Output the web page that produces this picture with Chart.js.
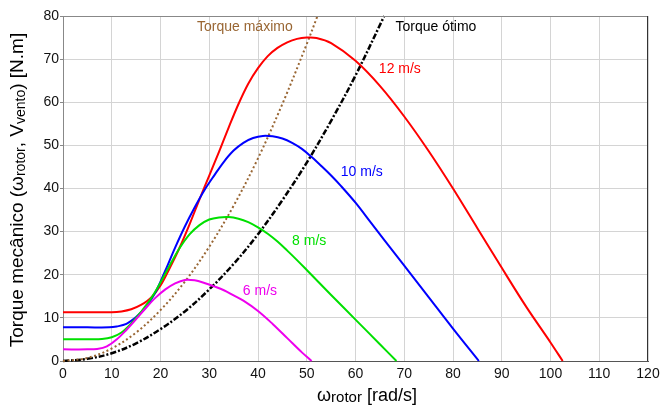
<!DOCTYPE html>
<html>
<head>
<meta charset="utf-8">
<script src="https://cdn.jsdelivr.net/npm/chart.js@4.4.1/dist/chart.umd.min.js"></script>
<style>
  html, body { margin: 0; padding: 0; background: #fff; }
  #wrap { width: 660px; height: 407px; }
</style>
</head>
<body>
<div id="wrap"><canvas id="chart_wrap" width="660" height="407"></canvas></div>
<script>
// valores: [omega (rad/s), torque (N.m)]
const v12 = [[0,11.3],[5,11.3],[10,11.3],[12,11.5],[14,12],[16,13],[18,14.6],[20,17.5],[22,21.8],[24,26.5],[26,31.8],[28,37.5],[30,43],[32,48.5],[34,54.2],[36,59.6],[38,64.3],[40,67.9],[42,70.7],[44,72.6],[46,73.9],[48,74.7],[50,75],[52,74.9],[55,73.7],[60,69.6],[65,63.8],[70,56.7],[75,48.7],[80,40],[85,30.8],[90,21.6],[95,12.6],[100,4.3],[102.5,0]];
const v10 = [[0,7.8],[5,7.8],[9.5,7.8],[11,8],[13,8.6],[15,10.2],[17,12.5],[19,16],[21,21],[23,26.3],[25,31.2],[27,35.6],[29,39.6],[31,43],[33,46.2],[35,48.8],[37,50.6],[39,51.7],[41,52.2],[43,52.1],[45,51.6],[47,50.6],[49,49.2],[51,47.3],[53,45.2],[55,43],[57,40.6],[60,36.7],[63,32.3],[66,27.9],[70,22.1],[75,14.8],[80,7.5],[85.3,0]];
const v8 = [[0,5.05],[5,5.05],[8,5.1],[10,5.5],[12,6.6],[14,8.7],[16,11.4],[18,14.4],[20,18.2],[22,22.4],[24,26.3],[26,29.4],[28,31.5],[30,32.8],[32,33.3],[34,33.4],[36,33],[38,32.2],[40,31],[42,29.5],[44,27.7],[46,25.6],[48,23.4],[50,21.1],[55,15.3],[60,9.6],[65,3.9],[68.4,0]];
const v6 = [[0,2.7],[5,2.7],[7,2.8],[9,3.4],[11,5],[13,7.2],[15,9.7],[17,12.3],[19,14.7],[21,16.6],[23,18],[25,18.8],[27,18.7],[29,18.1],[31,17.3],[33,16.4],[35,15.2],[37,14],[40,11.6],[43,8.6],[46,5.3],[49,2],[51,0]];
const torqueMax = [[0,0],[5,0.7],[10,2.9],[15,6.6],[20,11.8],[25,18.4],[30,26.5],[35,36],[40,47],[45,59.6],[50,73.5],[52.2,80]];
const torqueOtimo = [[0,0],[5,0.5],[10,1.8],[15,4.1],[20,7.4],[25,11.5],[30,16.6],[35,22.5],[40,29.4],[45,37.3],[50,46],[55,55.7],[60,66.2],[65.9,80]];

const xTicks = [0,10,20,30,40,50,60,70,80,90,100,110,120];
const yTicks = [0,10,20,30,40,50,60,70,80];

// rótulos dentro do gráfico
const curveLabels = [
  { text: '12 m/s', x: 69.1, y: 67.6, color: '#ff0000' },
  { text: '10 m/s', x: 61.3, y: 43.8, color: '#0000ff' },
  { text: '8 m/s', x: 50.5, y: 27.8, color: '#00e000' },
  { text: '6 m/s', x: 40.4, y: 16.2, color: '#ee00ee' },
  { text: 'Torque máximo', x: 37.3, y: 77.4, color: '#996633' },
  { text: 'Torque ótimo', x: 76.5, y: 77.4, color: '#000000' },
];

const toPts = arr => arr.map(p => ({ x: p[0], y: p[1] }));

function drawMixed(ctx, parts, x, y) {
  // parts: [texto, tamanho, deslocamento]
  let cx = x;
  parts.forEach(p => {
    ctx.font = p[1] + 'px "Liberation Sans", Arial, sans-serif';
    ctx.fillText(p[0], cx, y + (p[2] || 0));
    cx += ctx.measureText(p[0]).width;
  });
  return cx - x;
}

function mixedWidth(ctx, parts) {
  let w = 0;
  parts.forEach(p => {
    ctx.font = p[1] + 'px "Liberation Sans", Arial, sans-serif';
    w += ctx.measureText(p[0]).width;
  });
  return w;
}

const extras = {
  id: 'extras',
  afterDraw(chart) {
    const ctx = chart.ctx;
    const a = chart.chartArea;
    const sx = chart.scales.x, sy = chart.scales.y;
    ctx.save();
    // moldura superior e direita
    ctx.lineWidth = 1;
    ctx.strokeStyle = '#888888';
    ctx.beginPath();
    ctx.moveTo(a.left, a.top + 0.5);
    ctx.lineTo(a.right, a.top + 0.5);
    ctx.stroke();
    ctx.strokeStyle = '#333333';
    ctx.beginPath();
    ctx.moveTo(a.right - 0.5, a.top);
    ctx.lineTo(a.right - 0.5, a.bottom);
    ctx.stroke();

    // rótulos das curvas
    ctx.textAlign = 'center';
    ctx.textBaseline = 'middle';
    ctx.font = '14px "Liberation Sans", Arial, sans-serif';
    curveLabels.forEach(l => {
      ctx.fillStyle = l.color;
      ctx.fillText(l.text, sx.getPixelForValue(l.x), sy.getPixelForValue(l.y));
    });

    // título eixo x
    ctx.fillStyle = '#000';
    ctx.textAlign = 'left';
    ctx.textBaseline = 'alphabetic';
    const xParts = [['ω', 18, 0], ['rotor', 15, 1], [' [rad/s]', 18, 0]];
    const xw = mixedWidth(ctx, xParts);
    drawMixed(ctx, xParts, 367 - xw / 2, 401);

    // título eixo y
    const yParts = [['Torque mecânico (', 19, 0], ['ω', 19, 0], ['rotor', 14, 2], [', V', 19, 0], ['vento', 14, 2], [') [N.m]', 19, 0]];
    const yw = mixedWidth(ctx, yParts);
    ctx.translate(23, 190);
    ctx.rotate(-Math.PI / 2);
    drawMixed(ctx, yParts, -yw / 2, 0);
    ctx.restore();
  }
};

const ctx = document.getElementById('chart_wrap').getContext('2d');
window.myChart = new Chart(ctx, {
  type: 'line',
  data: {
    datasets: [
      { label: '6 m/s', data: toPts(v6), borderColor: '#ee00ee', borderWidth: 2 },
      { label: '8 m/s', data: toPts(v8), borderColor: '#00e000', borderWidth: 2 },
      { label: '10 m/s', data: toPts(v10), borderColor: '#0000ff', borderWidth: 2 },
      { label: '12 m/s', data: toPts(v12), borderColor: '#ff0000', borderWidth: 2 },
      { label: 'Torque máximo', data: toPts(torqueMax), borderColor: '#996633', borderWidth: 2, borderDash: [2, 2.5] },
      { label: 'Torque ótimo', data: toPts(torqueOtimo), borderColor: '#000000', borderWidth: 2.5, borderDash: [6, 2, 2, 2] },
    ],
  },
  options: {
    responsive: false,
    animation: false,
    devicePixelRatio: 1,
    clip: false,
    layout: { padding: { left: 0, top: 16, right: 12, bottom: 0 } },
    elements: {
      point: { radius: 0 },
      line: { tension: 0.35, fill: false },
    },
    plugins: {
      legend: { display: false },
      tooltip: { enabled: false },
    },
    scales: {
      x: {
        type: 'linear',
        min: 0,
        max: 120,
        afterBuildTicks: s => { s.ticks = xTicks.map(v => ({ value: v })); },
        afterFit: s => { s.height = 46; s.paddingLeft = 0; s.paddingRight = 0; },
        ticks: { color: '#111', font: { family: '"Liberation Sans", Arial, sans-serif', size: 14 }, padding: 5, maxRotation: 0 },
        grid: { color: '#d4d4d4', drawTicks: false },
        border: { color: '#555555' },
      },
      y: {
        type: 'linear',
        min: 0,
        max: 80,
        afterBuildTicks: s => { s.ticks = yTicks.map(v => ({ value: v })); },
        afterFit: s => { s.width = 63; s.paddingTop = 0; s.paddingBottom = 0; },
        ticks: { color: '#111', font: { family: '"Liberation Sans", Arial, sans-serif', size: 14 }, padding: 1 },
        grid: { color: '#d4d4d4', tickLength: 3, tickColor: '#888888' },
        border: { color: '#888888' },
      },
    },
  },
  plugins: [extras],
});
</script>
</body>
</html>
